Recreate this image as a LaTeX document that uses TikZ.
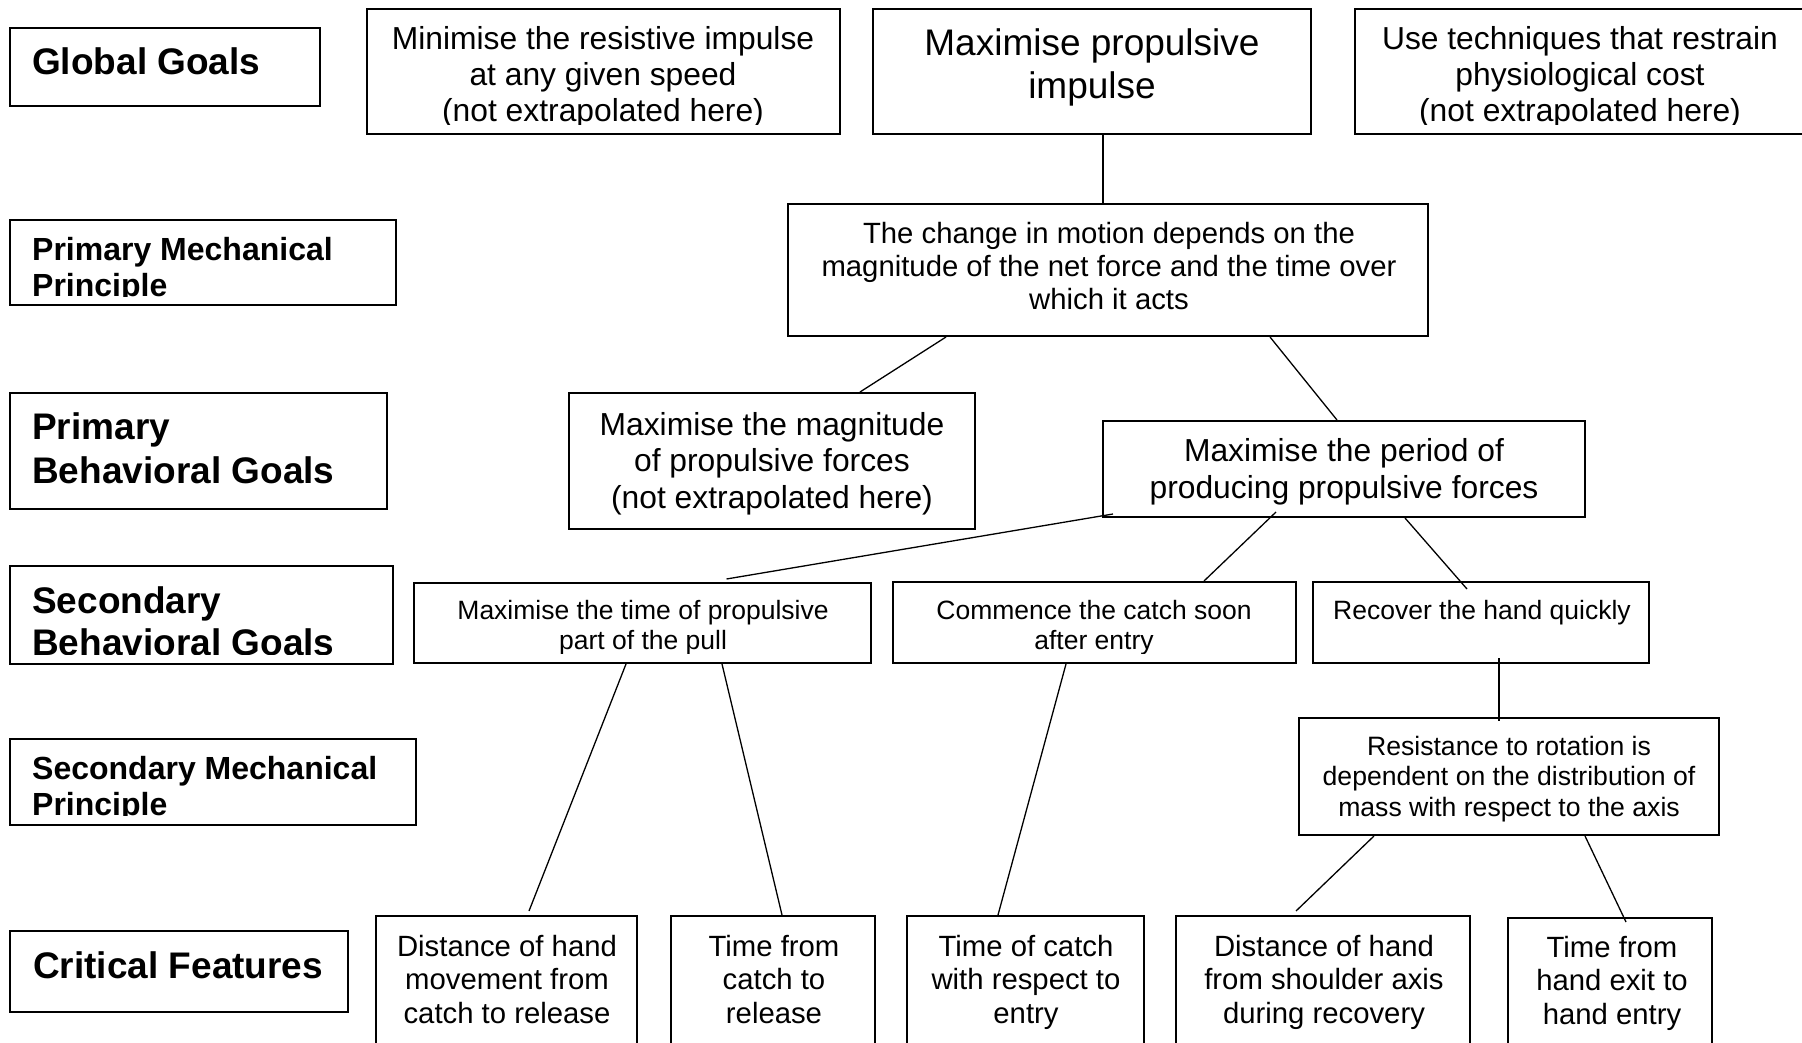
\documentclass[tikz,border=0pt]{standalone}
\usepackage{fontspec}
\setmainfont{Liberation Sans}
\usepackage{tikz}

\begin{document}
\begin{tikzpicture}[x=1pt, y=-1pt,
        box/.style = {draw, line width=2pt, inner sep=0pt},
        txt/.style = {align=center, anchor=base, inner sep=0pt},
        head/.style = {align=left, anchor=base west, inner sep=0pt},
        link/.style = {line width=1.3pt}]
        \useasboundingbox (0,0) rectangle (1802,1043);

        \node[box, minimum width=310pt, minimum height=78pt] (gg) at (165,67) {};
        \node[head, font=\fontsize{37}{44}\selectfont\bfseries] (gg-t) at (32,75) {Global Goals};

        \node[box, minimum width=473pt, minimum height=125pt] (minres) at (603.5,71.5) {};
        \begin{scope}
            \clip (minres.north west) rectangle ([yshift=10.5pt]minres.south east);
            \node[txt, font=\fontsize{31.8}{36}\selectfont] (minres-t) at (603,122)
                {Minimise the resistive impulse\\at any given speed\\(not extrapolated here)};
        \end{scope}

        \node[box, minimum width=438pt, minimum height=125pt] (maxprop) at (1092,71.5) {};
        \node[txt, font=\fontsize{37}{43}\selectfont] (maxprop-t) at (1092,99)
            {Maximise propulsive\\impulse};

        \node[box, minimum width=450pt, minimum height=125pt] (usetech) at (1580,71.5) {};
        \begin{scope}
            \clip (usetech.north west) rectangle ([yshift=10.5pt]usetech.south east);
            \node[txt, font=\fontsize{31.8}{36}\selectfont] (usetech-t) at (1580,122)
                {Use techniques that restrain\\physiological cost\\(not extrapolated here)};
        \end{scope}

        \node[box, minimum width=386pt, minimum height=85pt] (pmp) at (203,262.5) {};
        \begin{scope}
            \clip (pmp.north west) rectangle ([yshift=10pt]pmp.south east);
            \node[head, font=\fontsize{32}{35.6}\selectfont\bfseries] (pmp-t) at (32,296)
                {Primary Mechanical\\Principle};
        \end{scope}

        \node[box, minimum width=640pt, minimum height=132pt] (change) at (1108,270) {};
        \node[txt, font=\fontsize{29.3}{33}\selectfont] (change-t) at (1109,309)
            {The change in motion depends on the\\magnitude of the net force and the time over\\which it acts};

        \node[box, minimum width=377pt, minimum height=116pt] (pbg) at (198.5,451) {};
        \node[head, font=\fontsize{37}{44}\selectfont\bfseries] (pbg-t) at (32,483)
            {Primary\\Behavioral Goals};

        \node[box, minimum width=406pt, minimum height=136pt] (magn) at (772,461) {};
        \node[txt, font=\fontsize{31.8}{36.5}\selectfont] (magn-t) at (772,508)
            {Maximise the magnitude\\of propulsive forces\\(not extrapolated here)};

        \node[box, minimum width=482pt, minimum height=96pt] (period) at (1344,469) {};
        \node[txt, font=\fontsize{31.8}{37}\selectfont] (period-t) at (1344,498)
            {Maximise the period of\\producing propulsive forces};

        \node[box, minimum width=383pt, minimum height=98pt] (sbg) at (201.5,615) {};
        \begin{scope}
            \clip (sbg.north west) rectangle ([yshift=11pt]sbg.south east);
            \node[head, font=\fontsize{37}{41.5}\selectfont\bfseries] (sbg-t) at (32,655)
                {Secondary\\Behavioral Goals};
        \end{scope}

        \node[box, minimum width=457pt, minimum height=80pt] (maxtime) at (642.5,623) {};
        \begin{scope}
            \clip (maxtime.north west) rectangle ([yshift=11pt]maxtime.south east);
            \node[txt, font=\fontsize{26.5}{30}\selectfont] (maxtime-t) at (643,649)
                {Maximise the time of propulsive\\part of the pull};
        \end{scope}

        \node[box, minimum width=403pt, minimum height=81pt] (commence) at (1094.5,622.5) {};
        \begin{scope}
            \clip (commence.north west) rectangle ([yshift=11pt]commence.south east);
            \node[txt, font=\fontsize{26.5}{30}\selectfont] (commence-t) at (1094,649)
                {Commence the catch soon\\after entry};
        \end{scope}

        \node[box, minimum width=336pt, minimum height=81pt] (recover) at (1481,622.5) {};
        \node[txt, font=\fontsize{26.5}{30}\selectfont] (recover-t) at (1482,619)
            {Recover the hand quickly};

        \node[box, minimum width=406pt, minimum height=86pt] (smp) at (213,782) {};
        \begin{scope}
            \clip (smp.north west) rectangle ([yshift=11pt]smp.south east);
            \node[head, font=\fontsize{32}{35.6}\selectfont\bfseries] (smp-t) at (32,815)
                {Secondary Mechanical\\Principle};
        \end{scope}

        \node[box, minimum width=420pt, minimum height=117pt] (resist) at (1509,776.5) {};
        \node[txt, font=\fontsize{26.6}{30.5}\selectfont] (resist-t) at (1509,816)
            {Resistance to rotation is\\dependent on the distribution of\\mass with respect to the axis};

        \node[box, minimum width=338pt, minimum height=81pt] (cf) at (179,971.5) {};
        \node[head, font=\fontsize{37}{44}\selectfont\bfseries] (cf-t) at (33,978) {Critical Features};

        \node[box, minimum width=261pt, minimum height=144pt] (distmove) at (506.5,988) {};
        \node[txt, font=\fontsize{29.3}{33.5}\selectfont] (distmove-t) at (507,1023)
            {Distance of hand\\movement from\\catch to release};

        \node[box, minimum width=204pt, minimum height=144pt] (timecatch) at (773,988) {};
        \node[txt, font=\fontsize{29.3}{33.5}\selectfont] (timecatch-t) at (774,1023)
            {Time from\\catch to\\release};

        \node[box, minimum width=237pt, minimum height=144pt] (timeentry) at (1025.5,988) {};
        \node[txt, font=\fontsize{29.3}{33.5}\selectfont] (timeentry-t) at (1026,1023)
            {Time of catch\\with respect to\\entry};

        \node[box, minimum width=294pt, minimum height=144pt] (distshoulder) at (1323,988) {};
        \node[txt, font=\fontsize{29.3}{33.5}\selectfont] (distshoulder-t) at (1324,1023)
            {Distance of hand\\from shoulder axis\\during recovery};

        \node[box, minimum width=204pt, minimum height=142pt] (timeexit) at (1610,989) {};
        \node[txt, font=\fontsize{29.3}{33.5}\selectfont] (timeexit-t) at (1612,1024)
            {Time from\\hand exit to\\hand entry};

        \draw[link] ([xshift=11pt]maxprop.south) -- ([xshift=-5pt]change.north);
        \draw[link] ([xshift=-162pt]change.south) -- ([xshift=88pt]magn.north);
        \draw[link] ([xshift=162pt]change.south) -- ([xshift=-7pt]period.north);
        \draw[link] ([xshift=11pt,yshift=4pt]period.south west) -- ([xshift=84pt,yshift=3pt]maxtime.north);
        \draw[link] ([xshift=-68pt,yshift=6pt]period.south) -- ([xshift=109.5pt]commence.north);
        \draw[link] ([xshift=61pt]period.south) -- ([xshift=-14pt,yshift=-8pt]recover.north);
        \draw[link] ([xshift=18pt,yshift=6pt]recover.south) -- ([xshift=-10pt,yshift=-4pt]resist.north);
        \draw[link] ([xshift=-16.5pt]maxtime.south) -- ([xshift=22.5pt,yshift=4pt]distmove.north);
        \draw[link] ([xshift=79.5pt]maxtime.south) -- ([xshift=9pt]timecatch.north);
        \draw[link] ([xshift=-28.5pt]commence.south) -- ([xshift=-27.5pt]timeentry.north);
        \draw[link] ([xshift=-135pt]resist.south) -- ([xshift=-27pt,yshift=4pt]distshoulder.north);
        \draw[link] ([xshift=76pt]resist.south) -- ([xshift=16pt,yshift=-5pt]timeexit.north);
    \end{tikzpicture}
\end{document}
